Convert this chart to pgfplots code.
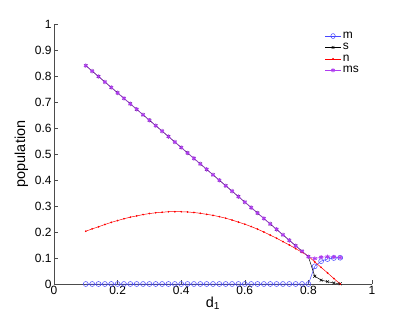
\documentclass[border=0pt]{standalone}
\usepackage{pgfplots}
\pgfplotsset{compat=1.18}
\usepackage{fontspec}
\setmainfont{Liberation Sans}
\definecolor{mblue}{RGB}{70,70,255}
\definecolor{mspurple}{RGB}{175,60,240}
\begin{document}
\begin{tikzpicture}
\path[use as bounding box] (-54bp,-36bp) rectangle (357bp,284bp);
\begin{axis}[
  scale only axis, width=318bp, height=260bp,
  xmin=0, xmax=1, ymin=0, ymax=1,
  xtick={0,0.2,...,1}, ytick={0,0.1,...,1},
  axis x line*=bottom, axis y line*=left,
  axis line style={black!70, line width=0.5pt},
  tick style={black!70, line width=0.5pt},
  tick align=inside, major tick length=4bp,
  /pgf/number format/assume math mode=true,
  /pgf/number format/.cd, fixed, precision=1, /pgfplots/.cd,
  tick label style={font=\fontsize{12}{14}\selectfont},
  xticklabel style={yshift=1bp},
  yticklabel style={xshift=1bp},
  label style={font=\fontsize{14.5}{17}\selectfont},
  xlabel={d\textsubscript{1}}, ylabel={population},
  xlabel style={yshift=5bp}, ylabel style={yshift=0bp},
  legend style={at={(0.975,0.985)}, anchor=north east, draw=none, fill=none,
    font=\fontsize{12}{14}\selectfont, row sep=-0.5bp},
  legend cell align=left,
  legend image post style={xscale=0.9},
]
\addplot[mblue, line width=0.5pt, mark=o, mark size=2.5pt] coordinates {
(0.10,0) (0.12,0) (0.14,0) (0.16,0) (0.18,0) (0.20,0) (0.22,0) (0.24,0) (0.26,0) (0.28,0)
(0.30,0) (0.32,0) (0.34,0) (0.36,0) (0.38,0) (0.40,0) (0.42,0) (0.44,0) (0.46,0) (0.48,0)
(0.50,0) (0.52,0) (0.54,0) (0.56,0) (0.58,0) (0.60,0) (0.62,0) (0.64,0) (0.66,0) (0.68,0)
(0.70,0) (0.72,0) (0.74,0) (0.76,0) (0.78,0) (0.80,0)
(0.82,0.068) (0.84,0.088) (0.86,0.096) (0.88,0.100) (0.90,0.101)};
\addlegendentry{m}
\addplot[black, line width=0.5pt, mark=x, mark size=2pt] coordinates {
(0.10,0.840) (0.12,0.819) (0.14,0.798) (0.16,0.777) (0.18,0.756) (0.20,0.735) (0.22,0.714) (0.24,0.693) (0.26,0.672) (0.28,0.651)
(0.30,0.630) (0.32,0.609) (0.34,0.588) (0.36,0.567) (0.38,0.546) (0.40,0.525) (0.42,0.504) (0.44,0.483) (0.46,0.462) (0.48,0.441)
(0.50,0.420) (0.52,0.399) (0.54,0.378) (0.56,0.357) (0.58,0.336) (0.60,0.315) (0.62,0.294) (0.64,0.273) (0.66,0.252) (0.68,0.231)
(0.70,0.210) (0.72,0.189) (0.74,0.168) (0.76,0.147) (0.78,0.126) (0.80,0.105)
(0.82,0.030) (0.84,0.015) (0.86,0.009) (0.88,0.004) (0.90,0.001)};
\addlegendentry{s}
\addplot[red, line width=0.5pt, mark=*, mark size=0.6pt] coordinates {
(0.10,0.203) (0.12,0.212) (0.14,0.220) (0.16,0.229) (0.18,0.237) (0.20,0.244) (0.22,0.251) (0.24,0.257) (0.26,0.262) (0.28,0.267)
(0.30,0.271) (0.32,0.274) (0.34,0.276) (0.36,0.278) (0.38,0.278) (0.40,0.278) (0.42,0.277) (0.44,0.275) (0.46,0.272) (0.48,0.268)
(0.50,0.264) (0.52,0.259) (0.54,0.253) (0.56,0.246) (0.58,0.238) (0.60,0.230) (0.62,0.221) (0.64,0.211) (0.66,0.200) (0.68,0.188)
(0.70,0.176) (0.72,0.163) (0.74,0.150) (0.76,0.136) (0.78,0.122) (0.80,0.107)
(0.82,0.085) (0.84,0.064) (0.86,0.043) (0.88,0.021) (0.90,0.000)};
\addlegendentry{n}
\addplot[mspurple, line width=0.5pt, mark=asterisk, mark size=2.2pt, mark options={line width=0.9pt}] coordinates {
(0.10,0.840) (0.12,0.819) (0.14,0.798) (0.16,0.777) (0.18,0.756) (0.20,0.735) (0.22,0.714) (0.24,0.693) (0.26,0.672) (0.28,0.651)
(0.30,0.630) (0.32,0.609) (0.34,0.588) (0.36,0.567) (0.38,0.546) (0.40,0.525) (0.42,0.504) (0.44,0.483) (0.46,0.462) (0.48,0.441)
(0.50,0.420) (0.52,0.399) (0.54,0.378) (0.56,0.357) (0.58,0.336) (0.60,0.315) (0.62,0.294) (0.64,0.273) (0.66,0.252) (0.68,0.231)
(0.70,0.210) (0.72,0.189) (0.74,0.168) (0.76,0.147) (0.78,0.126) (0.80,0.105)
(0.82,0.098) (0.84,0.103) (0.86,0.105) (0.88,0.104) (0.90,0.102)};
\addlegendentry{ms}
\end{axis}
\end{tikzpicture}
\end{document}
